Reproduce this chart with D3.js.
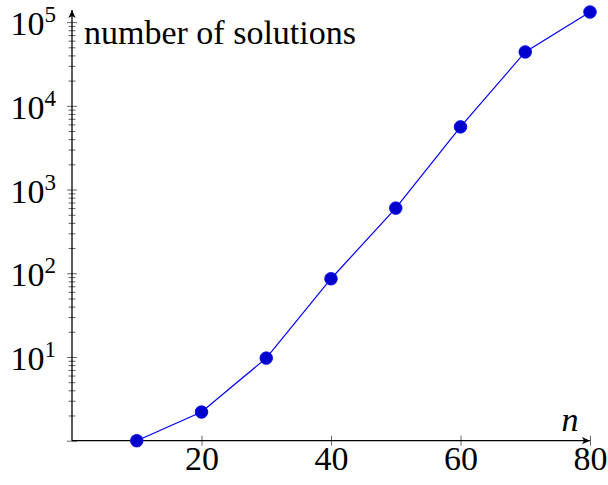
<!DOCTYPE html>
<html>
<head>
<meta charset="utf-8">
<script src="https://cdn.jsdelivr.net/npm/d3@7"></script>
<style>
	html, body { margin: 0; padding: 0; background: #fff; }
	svg { display: block; }
	svg text { font-family: "Liberation Serif", "DejaVu Serif", "Noto Serif", "Times New Roman", Tinos, Times, serif !important; fill: #000; }
</style>
</head>
<body>
<svg id="chart" width="608" height="485" font-family="Liberation Serif, DejaVu Serif, serif"></svg>
<script>
// values
var nValues = [10, 20, 30, 40, 50, 60, 70, 80];
var solutions = [1, 2.2, 9.7, 86, 600, 5600, 44000, 132000];
var xTickValues = [20, 40, 60, 80];
var yLabelTicks = [10, 100, 1000, 10000, 100000];
var xLabel = 'n';
var yLabel = 'number of solutions';

var serif = '"Liberation Serif", "DejaVu Serif", "Noto Serif", serif';

var svg = d3.select('#chart');

var x = d3.scaleLinear()
	.domain([0, 80])
	.range([72, 590]);

var y = d3.scaleLog()
	.domain(d3.extent(solutions))
	.range([440.7, 12]);

var y0 = y(1),
	x0 = x(0);

var defs = svg.append('defs');
defs.append('marker')
	.attr('id', 'arrow')
	.attr('viewBox', '0 -5 10 10')
	.attr('refX', 10)
	.attr('refY', 0)
	.attr('markerUnits', 'userSpaceOnUse')
	.attr('markerWidth', 8)
	.attr('markerHeight', 8)
	.attr('orient', 'auto')
	.append('path')
	.attr('d', 'M0,-4.5L10,0L0,4.5L2.5,0Z')
	.attr('fill', '#000');

//x axis, ticks centred on the line
var xAxis = d3.axisBottom(x)
	.tickValues(xTickValues)
	.tickSizeOuter(0)
	.tickFormat(d3.format('d'));

var gx = svg.append('g')
	.attr('transform', 'translate(0,' + y0 + ')')
	.call(xAxis)
	.attr('font-family', serif);

gx.select('.domain').remove();
gx.selectAll('.tick line')
	.attr('y1', -5)
	.attr('y2', 5)
	.attr('stroke', '#666')
	.attr('stroke-width', 1);
gx.selectAll('.tick text')
	.attr('y', 29)
	.attr('dy', 0)
	.attr('font-size', 34)
	.style('font-family', serif);

//y axis with major and minor ticks
var yTicks = y.ticks();
var isMajor = function(d){
	return Math.abs(Math.log10(d) - Math.round(Math.log10(d))) < 1e-9;
};

var yAxis = d3.axisLeft(y)
	.tickValues(yTicks)
	.tickSizeOuter(0)
	.tickFormat('');

var gy = svg.append('g')
	.attr('transform', 'translate(' + x0 + ',0)')
	.call(yAxis);

gy.select('.domain').remove();
gy.selectAll('.tick line')
	.attr('x1', function(d){ return isMajor(d) ? -5 : -3.5; })
	.attr('x2', function(d){ return isMajor(d) ? 5 : 3.5; })
	.attr('stroke', '#666')
	.attr('stroke-width', 1);

gy.selectAll('.tick text').remove();

//labels 10^k
var yText = svg.append('g').selectAll('text')
	.data(yLabelTicks)
	.enter().append('text')
		.attr('text-anchor', 'end')
		.attr('x', x0 - 16)
		.attr('y', function(d){ return y(d) + 13; })
		.attr('font-size', 34)
		.style('font-family', serif);

yText.append('tspan')
	.text('10');
yText.append('tspan')
	.attr('dy', -13)
	.attr('font-size', 23)
	.text(function(d){ return Math.round(Math.log10(d)); });

//axis lines with arrow heads
svg.append('line')
	.attr('x1', x0)
	.attr('y1', y0)
	.attr('x2', x(80))
	.attr('y2', y0)
	.attr('stroke', '#000')
	.attr('stroke-width', 1.3)
	.attr('marker-end', 'url(#arrow)');

svg.append('line')
	.attr('x1', x0)
	.attr('y1', y0)
	.attr('x2', x0)
	.attr('y2', y.range()[1] - 2)
	.attr('stroke', '#000')
	.attr('stroke-width', 1.3)
	.attr('marker-end', 'url(#arrow)');

//axis labels
svg.append('text')
	.attr('x', 570)
	.attr('y', 431)
	.attr('text-anchor', 'middle')
	.attr('font-size', 34)
	.attr('font-style', 'italic')
	.style('font-family', serif)
	.text(xLabel);

svg.append('text')
	.attr('x', 84)
	.attr('y', 44)
	.attr('font-size', 34)
	.style('font-family', serif)
	.text(yLabel);

//series
var points = nValues.map(function(d, i){
	return {n: d, v: solutions[i]};
});

var line = d3.line()
	.x(function(d){ return x(d.n); })
	.y(function(d){ return y(d.v); });

svg.append('path')
	.datum(points)
	.attr('d', line)
	.attr('fill', 'none')
	.attr('stroke', '#0000ff')
	.attr('stroke-width', 1.2);

svg.append('g').selectAll('circle')
	.data(points)
	.enter().append('circle')
		.attr('cx', function(d){ return x(d.n); })
		.attr('cy', function(d){ return y(d.v); })
		.attr('r', 6.3)
		.attr('fill', '#0000cc')
		.attr('stroke', '#0000ff')
		.attr('stroke-width', 0.8);
</script>
</body>
</html>
